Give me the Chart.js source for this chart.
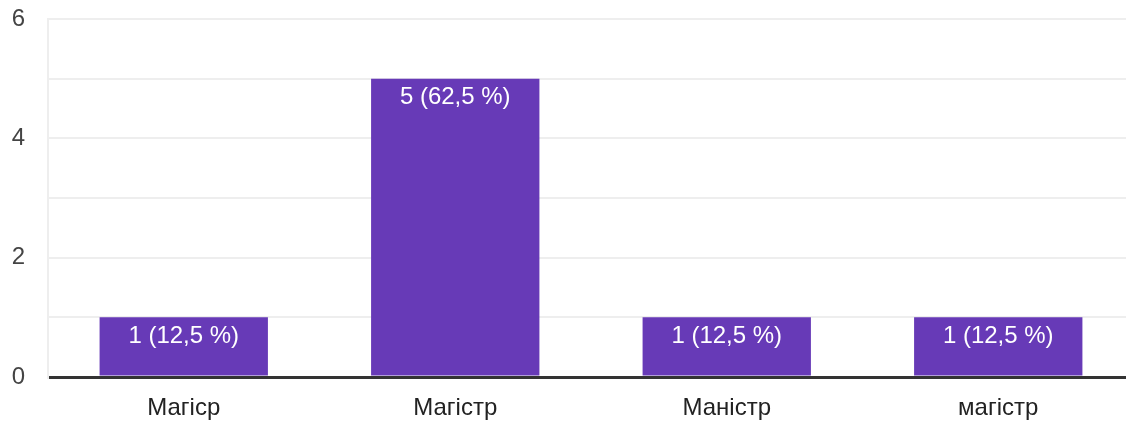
<!DOCTYPE html>
<html>
<head>
<meta charset="utf-8">
<script src="https://cdn.jsdelivr.net/npm/chart.js@4"></script>
<style>
    html, body { margin: 0; padding: 0; background: #fff; overflow: hidden; }
    #wrap { width: 1134px; height: 421px; }
</style>
</head>
<body>
<div id="wrap"><canvas id="degreeChart"></canvas></div>
<script>
const categories = ['Магісp', 'Магістр', 'Маністр', 'магістр'];
const counts = [1, 5, 1, 1];
const yTicks = [0, 2, 4, 6];

const total = counts.reduce((a, b) => a + b, 0);
const fontFamily = '"Liberation Sans", Arial, sans-serif';

// labels on top of each bar, e.g. "1 (12,5 %)"
const barLabels = {
    id: 'barLabels',
    afterDatasetsDraw(chart) {
        const ctx = chart.ctx;
        const meta = chart.getDatasetMeta(0);
        ctx.save();
        ctx.fillStyle = '#ffffff';
        ctx.font = '24px ' + fontFamily;
        ctx.textAlign = 'center';
        ctx.textBaseline = 'middle';
        meta.data.forEach((bar, i) => {
            const pct = (counts[i] / total * 100).toFixed(1).replace('.', ',');
            ctx.fillText(counts[i] + ' (' + pct + ' %)', bar.x, bar.y + 19);
        });
        ctx.restore();
    }
};

document.addEventListener("DOMContentLoaded", function () {
    const ctx = document.getElementById('degreeChart').getContext('2d');
    new Chart(ctx, {
        type: 'bar',
        data: {
            labels: categories,
            datasets: [{
                data: counts,
                backgroundColor: '#673ab7',
                categoryPercentage: 1,
                barPercentage: 0.62
            }]
        },
        plugins: [barLabels],
        options: {
            responsive: true,
            maintainAspectRatio: false,
            animation: false,
            layout: { padding: { top: 19, left: 0, right: 0, bottom: 0 } },
            plugins: {
                legend: { display: false },
                tooltip: { enabled: false }
            },
            scales: {
                x: {
                    grid: { display: false },
                    border: { display: false },
                    ticks: {
                        color: '#222222',
                        padding: 9,
                        font: { size: 24, family: fontFamily }
                    },
                    afterFit: function (scale) { scale.height = 44; }
                },
                y: {
                    min: 0,
                    max: 6,
                    ticks: {
                        stepSize: 1,
                        color: '#444444',
                        padding: 23,
                        font: { size: 24, family: fontFamily },
                        callback: function (value) {
                            return yTicks.includes(value) ? value : '';
                        }
                    },
                    grid: {
                        drawTicks: false,
                        color: function (c) { return c.tick.value === 0 ? '#333333' : '#eeeeee'; },
                        lineWidth: function (c) { return c.tick.value === 0 ? 3 : 2; }
                    },
                    border: { display: true, color: '#eeeeee', width: 2 },
                    afterFit: function (scale) {
                        scale.width = 48;
                        scale.paddingTop = 0;
                        scale.paddingBottom = 0;
                    }
                }
            }
        }
    });
});
</script>
</body>
</html>
